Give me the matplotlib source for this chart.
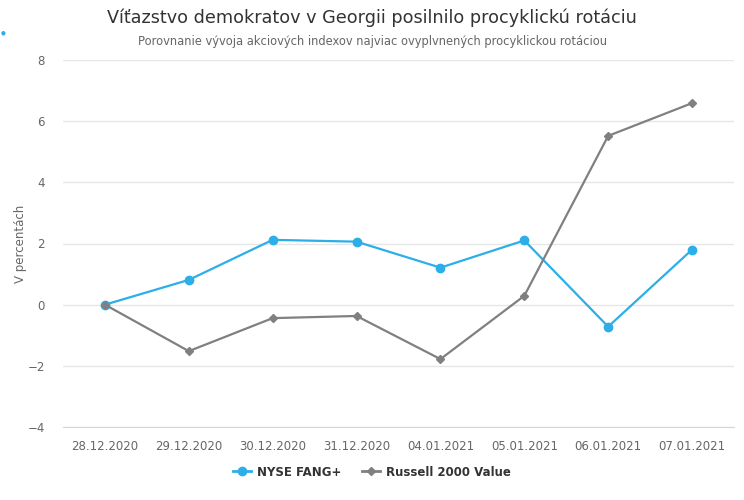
import matplotlib
matplotlib.use("Agg")
import matplotlib.pyplot as plt
from matplotlib.lines import Line2D

categories = ["28.12.2020", "29.12.2020", "30.12.2020", "31.12.2020",
              "04.01.2021", "05.01.2021", "06.01.2021", "07.01.2021"]
fang = [0.0, 0.81, 2.12, 2.06, 1.21, 2.1, -0.72, 1.8]
russell = [0.0, -1.52, -0.44, -0.37, -1.78, 0.29, 5.52, 6.59]
yticks = [-4, -2, 0, 2, 4, 6, 8]

blue = "#2caee8"
gray = "#808080"

fig = plt.figure(figsize=(7.44, 5.0), dpi=100)
ax = fig.add_axes([63/744, 73/500, 671/744, 367/500])

x = list(range(len(categories)))
ax.plot(x, fang, color=blue, lw=1.6, marker="o", ms=6, zorder=3)
ax.plot(x, russell, color=gray, lw=1.6, marker="D", ms=4.5, zorder=3)

ax.set_xlim(-0.5, len(categories) - 0.5)
ax.set_ylim(-4, 8)
ax.set_yticks(yticks)
ax.set_yticklabels([str(v).replace("-", "\u2212") for v in yticks])
ax.set_xticks(x)
ax.set_xticklabels(categories)
ax.grid(axis="y", color="#e6e6e6", lw=1)
ax.set_axisbelow(True)
for s in ["top", "right", "left"]:
    ax.spines[s].set_visible(False)
ax.spines["bottom"].set_color("#ccd6eb")
ax.tick_params(axis="both", length=0, colors="#666666", labelsize=8.5)
ax.tick_params(axis="y", pad=13)
ax.tick_params(axis="x", pad=9)
fig.text(21/744, 1 - 244/500, "V percentách", rotation=90, ha="center", va="center",
         color="#666666", fontsize=8.5)

fig.text(0.5, 1 - 18/500, "Víťazstvo demokratov v Georgii posilnilo procyklickú rotáciu",
         ha="center", va="center", fontsize=12.7, color="#333333")
fig.text(0.5, 1 - 41/500, "Porovnanie vývoja akciových indexov najviac ovyplvnených procyklickou rotáciou",
         ha="center", va="center", fontsize=8.3, color="#666666")
fig.text(3/744, 1 - 33/500, "\u25cf", color=blue, fontsize=4, ha="center", va="center")

handles = [Line2D([], [], color=blue, lw=2, marker="o", ms=6),
           Line2D([], [], color=gray, lw=2, marker="D", ms=4.5)]
fig.legend(handles, ["NYSE FANG+", "Russell 2000 Value"], loc="center",
           bbox_to_anchor=(372/744, 1 - 472/500), ncol=2, frameon=False,
           handlelength=1.5, columnspacing=1.8, handletextpad=0.5,
           labelcolor="#333333", prop={"weight": "semibold", "size": 8.5})

fig.savefig("out.png", dpi=100)
